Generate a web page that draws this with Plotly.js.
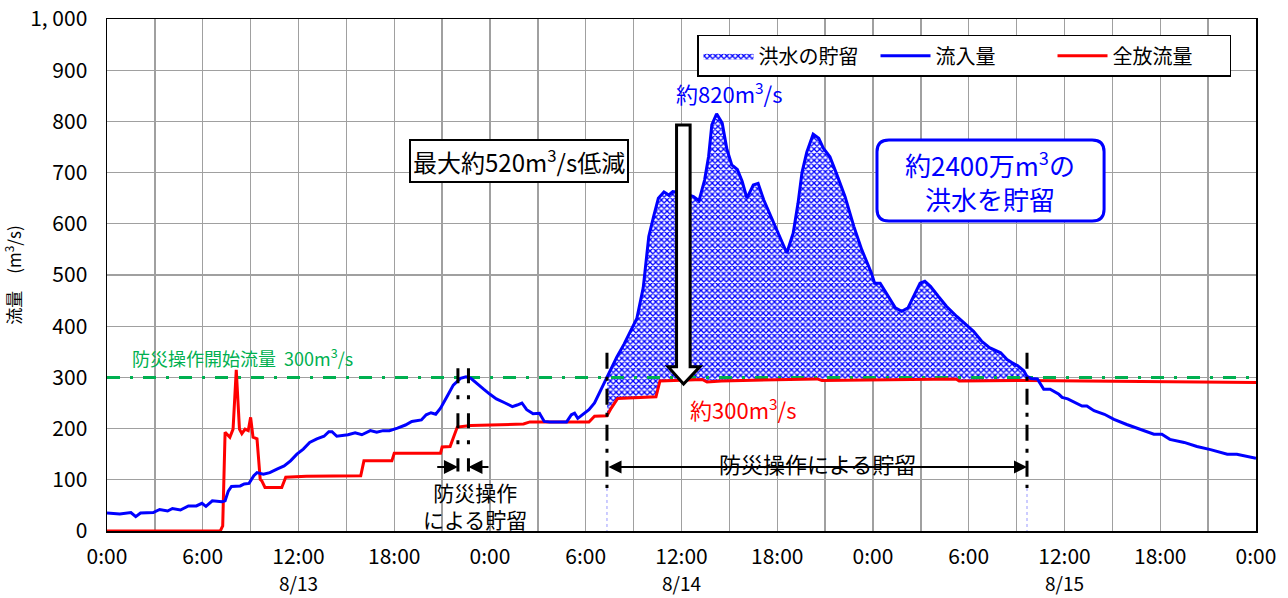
<!DOCTYPE html>
<html>
<head>
<meta charset="utf-8">
<script src="https://cdn.plot.ly/plotly-3.0.1.min.js"></script>
<style>html,body{margin:0;padding:0;background:#fff;}#chart{width:1288px;height:598px;}</style>
</head>
<body>
<div id="chart"></div>
<script>
// ---- data (hours from 8/13 0:00, flow in m3/s) ----
const inflowHours = [0,0.8,1.5,1.8,2.1,2.9,3.3,3.8,4.1,4.6,5.1,5.6,5.95,6.2,6.6,7.2,7.4,7.6,7.8,8.35,8.6,8.9,9.2,9.4,9.8,10.2,10.65,11.1,11.5,11.9,12.3,12.7,13.15,13.6,13.9,14.1,14.4,14.8,15.1,15.55,15.97,16.5,16.9,17.3,17.7,18.2,18.7,19.1,19.7,20.0,20.3,20.6,20.9,21.3,21.7,22.15,22.5,22.8,23.2,23.6,24.0,24.4,24.95,25.4,25.7,26.0,26.3,26.7,27.1,27.4,27.75,28.8,29.1,29.3,29.5,29.8,30.2,30.55,30.85,31.33,31.95,32.4,32.8,33.2,33.6,33.95,34.25,34.55,34.9,35.2,35.45,36.1,36.75,37.1,37.45,37.7,37.9,38.2,38.55,38.85,39.15,39.5,39.8,40.1,40.5,40.8,41.15,41.65,42.2,42.6,43.0,43.3,43.55,43.85,44.25,44.6,44.9,45.3,45.7,46.25,46.8,47.3,47.9,48.1,48.45,48.9,49.4,49.8,50.2,50.65,50.95,51.25,51.6,52.1,52.6,53.25,53.75,54.3,54.8,55.3,56.0,56.4,56.7,57.05,57.45,57.65,57.9,58.3,58.7,59.1,59.65,59.85,60.2,60.8,61.1,61.4,61.85,62.5,63.1,63.9,64.75,65.6,66.1,66.6,67.5,68.3,69.15,70.2,70.8,71.45,72];
const inflowValues = [35,33,36,28,35,36,42,39,44,41,49,49,54,48,59,57,59,78,87,88,92,93,108,114,111,114,121,127,137,150,160,173,180,185,194,194,185,186,188,192,188,196,193,196,196,201,207,214,217,227,231,228,240,262,285,298,301,298,287,277,267,258,250,243,246,250,237,229,230,214,213,213,227,230,220,227,237,250,269,302,340,365,390,415,475,575,614,650,662,656,663,660,653,645,686,732,793,815,797,745,715,706,683,650,676,679,647,611,569,543,582,640,700,740,775,767,747,731,699,653,595,549,504,484,484,462,436,429,436,465,484,488,478,458,439,419,406,390,371,358,348,335,329,323,313,302,298,297,277,277,267,261,258,248,244,244,235,228,218,208,199,189,189,179,173,165,159,150,150,145,142];
const outflowHours = [0,7.1,7.25,7.4,7.7,7.9,8.1,8.3,8.45,8.65,8.85,9.0,9.15,9.4,9.6,9.7,9.9,10.95,11.2,12.5,15.9,16.1,17.85,18.0,20.9,21.0,21.5,21.95,22.8,24.0,26.1,26.5,30.2,30.55,31.33,31.6,32.0,34.4,34.65,37.3,37.6,38.5,44.5,44.8,51.0,53.2,53.4,57.65,72];
const outflowValues = [0,0,10,193,183,199,315,199,190,199,196,222,183,180,101,98,85,85,105,107,108,137,137,152,152,164,165,203,206,207,209,213,213,224,225,240,259,262,293,296,291,293,297,294,296,297,293,294,290];
const thresholdFlow = 300;
const storageStart = 31.33, storageEnd = 57.65;       // 防災操作による貯留 (main)
const earlyOpStart = 21.99, earlyOpEnd = 22.65;       // 防災操作による貯留 (8/13 night)
const yTickValues = [0,100,200,300,400,500,600,700,800,900,1000];
const yTickLabels = ["0","100","200","300","400","500","600","700","800","900","1, 000"];
const timeLabels = ["0:00","6:00","12:00","18:00"];
const dateLabels = ["8/13","8/14","8/15"];
const dateHours = [12, 36, 60];
const seriesNames = ["洪水の貯留","流入量","全放流量"];

// ---- derived ----
const xTickVals = [], xTickText = [];
for (let h = 0; h <= 72; h += 3) {
  xTickVals.push(h);
  xTickText.push(h % 6 === 0 ? timeLabels[(h % 24) / 6] : "");
}
const inStore = (arrH, arrV) => {
  const xs = [], ys = [];
  arrH.forEach((h, i) => { if (h >= storageStart && h <= storageEnd) { xs.push(h); ys.push(arrV[i]); } });
  return {xs, ys};
};
const baseSeg = inStore(outflowHours, outflowValues);
const topSeg = inStore(inflowHours, inflowValues);

const FONT = '"Noto Sans CJK JP", "Noto Sans", sans-serif';
const BLUE = '#0000FF', RED = '#FF0000', GREEN = '#00B050';

const traces = [
  {x: baseSeg.xs, y: baseSeg.ys, mode: 'lines', line: {width: 0, color: RED}, showlegend: false, hoverinfo: 'skip'},
  {x: topSeg.xs, y: topSeg.ys, mode: 'lines', fill: 'tonexty', name: seriesNames[0], legendrank: 1,
   line: {width: 0, color: BLUE}, fillcolor: 'rgba(255,255,255,1)',
   fillpattern: {shape: 'x', fgcolor: BLUE, bgcolor: '#FFFFFF', size: 4, solidity: 0.55}},
  {x: [0, 72], y: [thresholdFlow, thresholdFlow], mode: 'lines', showlegend: false,
   line: {color: GREEN, width: 3, dash: '13px,10px,3px,10px'}},
  {x: outflowHours, y: outflowValues, mode: 'lines', name: seriesNames[2], legendrank: 3, line: {color: RED, width: 3}},
  {x: inflowHours, y: inflowValues, mode: 'lines', name: seriesNames[1], legendrank: 2, line: {color: BLUE, width: 3}}
];

const dashMain = '16px,8px,4px,8px';
const dashShort = '15px,12px,4px,14px';
const arrowPath = (() => {
  const l = 35.69, r = 36.54, top = 793, base = 321, hl = 35.16, hr = 37.16, tip = 287, cx = 36.13;
  return `M ${l},${top} L ${r},${top} L ${r},${base} L ${hr},${base} L ${cx},${tip} L ${hl},${base} L ${l},${base} Z`;
})();
const roundBox = (() => {
  const x0 = 48.25, x1 = 62.48, y0 = 605.5, y1 = 763.7, rx = 0.75, ry = 23;
  return `M ${x0+rx},${y1} L ${x1-rx},${y1} Q ${x1},${y1} ${x1},${y1-ry} L ${x1},${y0+ry} Q ${x1},${y0} ${x1-rx},${y0} L ${x0+rx},${y0} Q ${x0},${y0} ${x0},${y0+ry} L ${x0},${y1-ry} Q ${x0},${y1} ${x0+rx},${y1} Z`;
})();

const shapes = [
  {type: 'line', xref: 'x', yref: 'y', x0: storageStart, x1: storageStart, y0: 348, y1: 84, line: {color: '#000', width: 3, dash: dashMain}},
  {type: 'line', xref: 'x', yref: 'y', x0: storageEnd, x1: storageEnd, y0: 348, y1: 84, line: {color: '#000', width: 3, dash: dashMain}},
  {type: 'line', xref: 'x', yref: 'y', x0: storageStart, x1: storageStart, y0: 84, y1: 0, line: {color: '#9999FF', width: 1, dash: 'dot'}},
  {type: 'line', xref: 'x', yref: 'y', x0: storageEnd, x1: storageEnd, y0: 84, y1: 0, line: {color: '#9999FF', width: 1, dash: 'dot'}},
  {type: 'line', xref: 'x', yref: 'y', x0: earlyOpStart, x1: earlyOpStart, y0: 318, y1: 116, line: {color: '#000', width: 3, dash: dashShort}},
  {type: 'line', xref: 'x', yref: 'y', x0: earlyOpEnd, x1: earlyOpEnd, y0: 318, y1: 116, line: {color: '#000', width: 3, dash: dashShort}},
  {type: 'path', xref: 'x', yref: 'y', path: arrowPath, fillcolor: '#FFFFFF', line: {color: '#000', width: 3}},
  {type: 'path', xref: 'x', yref: 'y', path: roundBox, fillcolor: '#FFFFFF', line: {color: BLUE, width: 3}}
];

const annotations = [
  {x: 25.8, y: 722, xref: 'x', yref: 'y', text: '最大約520m<sup>3</sup>/s低減', showarrow: false,
   font: {family: FONT, size: 24, color: '#000'}, bgcolor: '#FFF', bordercolor: '#000', borderwidth: 2, borderpad: 2},
  {x: 38.98, y: 857, xref: 'x', yref: 'y', text: '約820m<sup>3</sup>/s', showarrow: false, font: {family: FONT, size: 22, color: BLUE}},
  {x: 39.85, y: 240, xref: 'x', yref: 'y', text: '約300m<sup>3</sup>/s', showarrow: false, font: {family: FONT, size: 22, color: RED}},
  {x: 55.36, y: 685, xref: 'x', yref: 'y', text: '約2400万m<sup>3</sup>の<br>洪水を貯留', showarrow: false,
   font: {family: FONT, size: 26, color: BLUE}},
  {x: 1.44, y: 340, xref: 'x', yref: 'y', xanchor: 'left', text: '防災操作開始流量  300m<sup>3</sup>/s', showarrow: false,
   font: {family: FONT, size: 18, color: GREEN}},
  {x: storageEnd, y: 125, ax: storageStart, ay: 125, xref: 'x', yref: 'y', axref: 'x', ayref: 'y', text: '',
   showarrow: true, arrowside: 'end+start', arrowhead: 2, startarrowhead: 2, arrowsize: 1.3, startarrowsize: 1.3, arrowwidth: 2, arrowcolor: '#000'},
  {x: 44.5, y: 133, xref: 'x', yref: 'y', text: '防災操作による貯留', showarrow: false, font: {family: FONT, size: 22, color: '#000'}},
  {x: earlyOpStart, y: 125, ax: 20.6, ay: 125, xref: 'x', yref: 'y', axref: 'x', ayref: 'y', text: '',
   showarrow: true, arrowhead: 2, arrowsize: 1.4, arrowwidth: 2, arrowcolor: '#000'},
  {x: earlyOpEnd, y: 125, ax: 24.0, ay: 125, xref: 'x', yref: 'y', axref: 'x', ayref: 'y', text: '',
   showarrow: true, arrowhead: 2, arrowsize: 1.4, arrowwidth: 2, arrowcolor: '#000'},
  {x: 23.06, y: 49, xref: 'x', yref: 'y', text: '防災操作<br>による貯留', showarrow: false, font: {family: FONT, size: 21, color: '#000'}}
];
dateLabels.forEach((d, i) => annotations.push({
  x: dateHours[i], y: -0.1, xref: 'x', yref: 'paper', yanchor: 'middle', text: d, showarrow: false,
  font: {family: FONT, size: 19, color: '#000'}
}));

const layout = {
  width: 1288, height: 598,
  margin: {l: 107, r: 32, t: 19, b: 67},
  paper_bgcolor: '#FFFFFF', plot_bgcolor: '#FFFFFF',
  font: {family: FONT, color: '#000'},
  showlegend: true,
  legend: {orientation: 'h', x: 0.5135, y: 0.969, xanchor: 'left', yanchor: 'top',
           bgcolor: '#FFFFFF', bordercolor: '#000', borderwidth: 1.5,
           font: {family: FONT, size: 20, color: '#000'}, itemwidth: 50, entrywidth: 112, entrywidthmode: 'pixels',
           traceorder: 'normal'},
  xaxis: {range: [0, 72], tickmode: 'array', tickvals: xTickVals, ticktext: xTickText,
          showgrid: true, gridcolor: '#A0A0A0', gridwidth: 1.3, zeroline: false,
          showline: true, linecolor: '#000', linewidth: 1.5, mirror: true, automargin: false,
          ticks: '', ticklabelstandoff: 6, tickfont: {family: FONT, size: 21, color: '#000'}},
  yaxis: {range: [0, 1000], tickmode: 'array', tickvals: yTickValues, ticktext: yTickLabels,
          showgrid: true, gridcolor: '#A0A0A0', gridwidth: 1.3, zeroline: false,
          showline: true, linecolor: '#000', linewidth: 1.5, mirror: true, automargin: false,
          ticks: '', ticklabelstandoff: 14, tickfont: {family: FONT, size: 21, color: '#000'},
          title: {text: '流量　(m<sup>3</sup>/s)', font: {family: FONT, size: 17, color: '#000'}, standoff: 14}},
  shapes: shapes,
  annotations: annotations
};

Plotly.newPlot('chart', traces, layout, {staticPlot: true, displayModeBar: false});
</script>
</body>
</html>
